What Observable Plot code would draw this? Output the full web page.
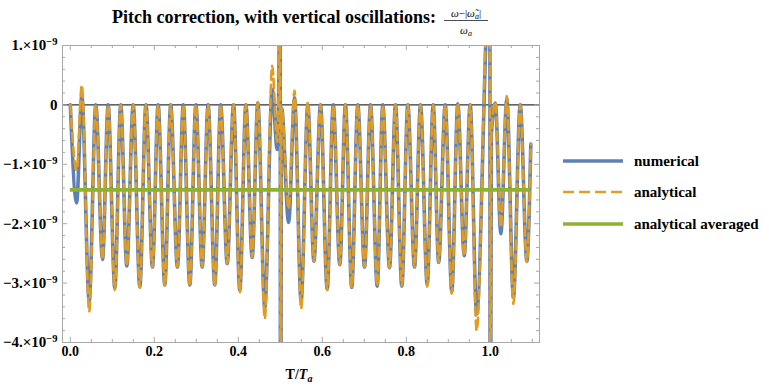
<!DOCTYPE html>
<html>
<head>
<meta charset="utf-8">
<script src="https://cdn.jsdelivr.net/npm/d3@7"></script>
<script src="https://cdn.jsdelivr.net/npm/@observablehq/plot@0.6"></script>
<style>
  html, body { margin: 0; padding: 0; background: #fff; }
  #chart { width: 769px; height: 386px; }
</style>
</head>
<body>
<div id="chart"></div>
<script>
// Time in units of the axial period T/Ta; frequency shift in units of 1e-9.
// Samples at the turning points of the oscillation (plus the two resonances near 0.5 and 1.0).
const t = [
  0, 0.0150, 0.0274, 0.0450, 0.0607, 0.0767, 0.0900, 0.1060, 0.1200, 0.1345,
  0.1497, 0.1655, 0.1800, 0.1957, 0.2090, 0.2250, 0.2390, 0.2550, 0.2690, 0.2845,
  0.2990, 0.3140, 0.3280, 0.3440, 0.3580, 0.3736, 0.3886, 0.4036, 0.4180, 0.4330,
  0.4464, 0.4630, 0.4807, 0.4926, 0.4975, 0.4993, 0.5005, 0.5030, 0.5198, 0.5338,
  0.5495, 0.5655, 0.5800, 0.5957, 0.6116, 0.6260, 0.6417, 0.6550, 0.6700, 0.6845,
  0.7005, 0.7148, 0.7307, 0.7440, 0.7600, 0.7743, 0.7893, 0.8036, 0.8195, 0.8338,
  0.8498, 0.8640, 0.8770, 0.8926, 0.9083, 0.9226, 0.9378, 0.9520, 0.9674, 0.9890,
  0.9960, 0.9985, 0.9998, 1.0025, 1.0120, 1.0250, 1.0393, 1.0550, 1.0712, 1.0870,
  1.0964
];

const numerical = [
  0, -1.65, 0.15, -3.30, 0, -2.60, 0, -3.08, 0, -2.71,
  0, -3.06, 0, -2.73, 0, -3.03, 0, -2.73, 0, -3.03,
  0, -2.73, 0, -3.03, 0, -2.67, 0, -3.12, 0, -2.57,
  0.03, -3.41, 0.26, -0.75, 1.2, 8, -8, -0.05, -1.98, 0.12,
  -3.30, 0, -2.63, 0, -3.10, 0, -2.69, 0, -3.07, 0,
  -2.73, 0, -3.05, 0, -2.74, 0, -3.05, 0, -2.73, 0,
  -3.02, 0, -2.65, 0, -3.14, 0.02, -2.54, 0, -3.52, 1.0,
  2.5, 8, -8, -0.5, 0.03, -2.17, 0.10, -3.24, 0, -2.63,
  -0.66
];

const analytical = [
  0, -1.10, 0.33, -3.48, 0, -2.60, 0, -3.12, 0, -2.71,
  0, -3.08, 0, -2.73, 0, -3.05, 0, -2.73, 0, -3.05,
  0, -2.73, 0, -3.05, 0, -2.67, 0, -3.16, 0, -2.57,
  0.05, -3.60, 0.66, -0.62, 1.2, 8, -8, -0.05, -1.75, 0.24,
  -3.43, 0.05, -2.63, 0, -3.12, 0, -2.69, 0, -3.07, 0,
  -2.73, 0, -3.05, 0, -2.74, 0, -3.05, 0, -2.73, 0,
  -3.06, 0, -2.65, 0, -3.18, 0.03, -2.54, 0, -3.80, 1.2,
  2.7, 8, -8, -0.5, 0.05, -2.06, 0.15, -3.35, 0, -2.65,
  -0.66
];

const averagedValue = -1.43;
const averagedSpan = [0, 1.0964];

const xTickValues = [0, 0.2, 0.4, 0.6, 0.8, 1.0];
const yTickValues = [-4, -3, -2, -1, 0, 1];
const yTickLabels = ["−4.×10^−9", "−3.×10^−9", "−2.×10^−9", "−1.×10^−9", "0", "1.×10^−9"];
const seriesNames = ["numerical", "analytical", "analytical averaged"];

const blue = "#5e81b5", orange = "#e19c24", green = "#8fb131";
const frameColor = "#a8a8a8";
const serif = "'Liberation Serif', 'Times New Roman', serif";

const W = 769, H = 386, mL = 62, mR = 230, mT = 45, mB = 44;
const innerW = W - mL - mR, innerH = H - mT - mB;

const rows = t.map((d, i) => ({t: d, num: numerical[i], ana: analytical[i]}));

const xMinor = d3.range(0, 1.1001, 0.05).filter(v => Math.abs(v / 0.2 - Math.round(v / 0.2)) > 1e-6);
const yMinor = d3.range(-4, 1.0001, 0.2).filter(v => Math.abs(v - Math.round(v)) > 1e-6);
const majorLen = 5, minorLen = 3;

const svg = Plot.plot({
  width: W, height: H,
  marginLeft: mL, marginRight: mR, marginTop: mT, marginBottom: mB,
  style: {fontFamily: serif, fontSize: "14px", fontWeight: "bold", color: "black", background: "white"},
  x: {domain: [-0.0186, 1.1171]},
  y: {domain: [-4, 1]},
  marks: [
    Plot.ruleY([0], {stroke: "black", strokeWidth: 1}),
    Plot.line(rows, {x: "t", y: "num", stroke: blue, strokeWidth: 3.6, curve: "monotone-x", clip: true}),
    Plot.line(rows, {x: "t", y: "ana", stroke: orange, strokeWidth: 2.6, strokeDasharray: "9,5", curve: "monotone-x", clip: true}),
    Plot.ruleY([averagedValue], {x1: averagedSpan[0], x2: averagedSpan[1], stroke: green, strokeWidth: 3.6}),
    Plot.frame({stroke: frameColor}),
    // inward frame ticks on all four sides
    Plot.ruleX(xTickValues, {insetTop: innerH - majorLen, stroke: frameColor}),
    Plot.ruleX(xTickValues, {insetBottom: innerH - majorLen, stroke: frameColor}),
    Plot.ruleX(xMinor, {insetTop: innerH - minorLen, stroke: frameColor}),
    Plot.ruleX(xMinor, {insetBottom: innerH - minorLen, stroke: frameColor}),
    Plot.ruleY(yTickValues, {insetRight: innerW - majorLen, stroke: frameColor}),
    Plot.ruleY(yTickValues, {insetLeft: innerW - majorLen, stroke: frameColor}),
    Plot.ruleY(yMinor, {insetRight: innerW - minorLen, stroke: frameColor}),
    Plot.ruleY(yMinor, {insetLeft: innerW - minorLen, stroke: frameColor}),
    Plot.axisX(xTickValues, {tickSize: 0, tickPadding: 4, tickFormat: d3.format(".1f"), label: null}),
    Plot.axisY(yTickValues, {tickSize: 0, tickPadding: 5, tickFormat: d => yTickLabels[yTickValues.indexOf(d)], label: null})
  ]
});

const root = d3.select(svg);

// superscript exponents on the y tick labels
root.selectAll('g[aria-label="y-axis tick label"] text').each(function () {
  const parts = this.textContent.split("^");
  const sel = d3.select(this).attr("font-size", "15px");
  if (parts.length === 2) {
    sel.text(null);
    sel.append("tspan").text(parts[0]);
    sel.append("tspan").attr("dy", "-0.5em").attr("font-size", "10.5px").text(parts[1]);
  }
});

// title with the relative frequency fraction
const title = root.append("g").attr("font-family", serif).attr("fill", "black");
title.append("text")
  .attr("x", 436).attr("y", 22.5).attr("text-anchor", "end")
  .attr("font-size", 18).attr("font-weight", "bold")
  .text("Pitch correction, with vertical oscillations:");
const num = title.append("text").attr("x", 466).attr("y", 16.5).attr("text-anchor", "middle")
  .attr("font-size", 11).attr("font-weight", "normal");
num.append("tspan").attr("font-style", "italic").text("ω");
num.append("tspan").text("−|");
num.append("tspan").attr("font-style", "italic").text("ω\u0303");
num.append("tspan").attr("font-style", "italic").attr("font-size", 8).attr("dy", 2).text("a");
num.append("tspan").attr("dy", -2).text("|");
title.append("line").attr("x1", 444).attr("x2", 488).attr("y1", 20.5).attr("y2", 20.5)
  .attr("stroke", "black").attr("stroke-width", 0.7);
const den = title.append("text").attr("x", 466).attr("y", 34).attr("text-anchor", "middle")
  .attr("font-size", 11).attr("font-weight", "normal");
den.append("tspan").attr("font-style", "italic").text("ω");
den.append("tspan").attr("font-style", "italic").attr("font-size", 8).attr("dy", 2).text("a");

// x axis label T/Ta
const xl = root.append("text").attr("x", 299).attr("y", 379).attr("text-anchor", "middle")
  .attr("font-family", serif).attr("font-size", 14).attr("font-weight", "bold").attr("fill", "black");
xl.append("tspan").text("T/");
xl.append("tspan").attr("font-style", "italic").text("T");
xl.append("tspan").attr("font-style", "italic").attr("font-size", 10).attr("dy", 3).text("a");

// legend
const legend = root.append("g").attr("font-family", serif).attr("font-size", 15)
  .attr("font-weight", "bold").attr("text-anchor", "start");
const legendStyles = [
  {stroke: blue, width: 3.6, dash: null},
  {stroke: orange, width: 2.6, dash: "11,5"},
  {stroke: green, width: 3.6, dash: null}
];
const legendY = [161, 192, 224];
seriesNames.forEach((name, i) => {
  const ln = legend.append("line").attr("x1", 563).attr("x2", 623)
    .attr("y1", legendY[i]).attr("y2", legendY[i])
    .attr("stroke", legendStyles[i].stroke).attr("stroke-width", legendStyles[i].width);
  if (legendStyles[i].dash) ln.attr("stroke-dasharray", legendStyles[i].dash);
  legend.append("text").attr("x", 634).attr("y", legendY[i] + 5).attr("fill", "black")
    .attr("text-anchor", "start").text(name);
});

document.getElementById("chart").appendChild(svg);
</script>
</body>
</html>
